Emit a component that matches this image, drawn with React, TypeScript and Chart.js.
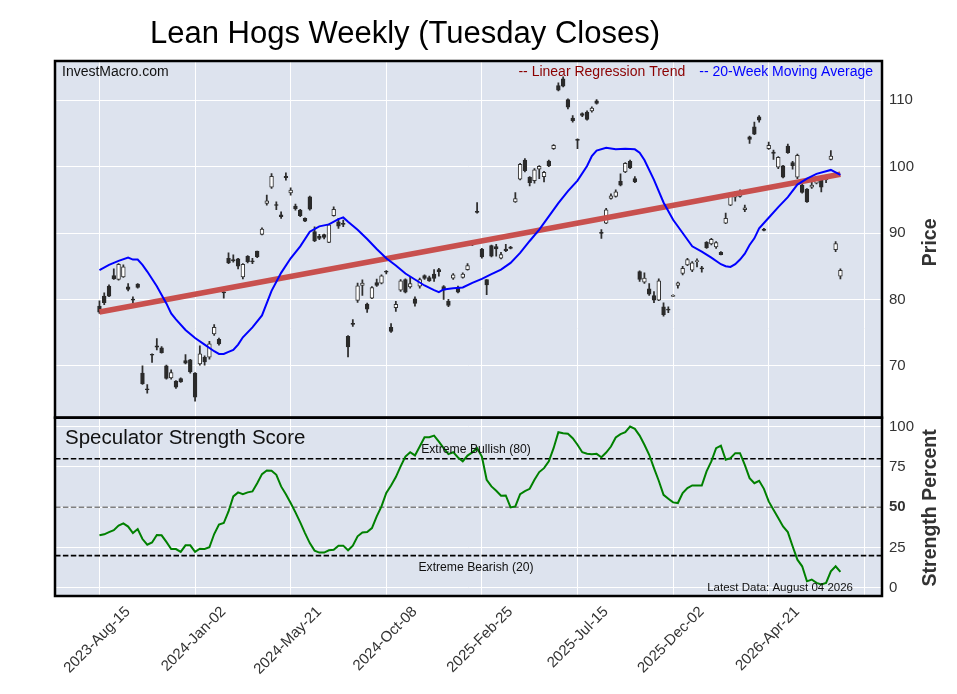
import React, { useEffect, useRef } from 'react';
import { Chart, registerables } from 'chart.js';

Chart.register(...registerables);

const FONT = "'Liberation Sans', Arial, Helvetica, sans-serif";
const BG = '#dde3ee';

// ---- weekly OHLC (Tuesday closes), index 0 = 2023-Aug-15 ----
const opens = [
  79.0, 80.5, 82.0, 83.6, 83.0, 83.4, 81.9, 80.0, 82.3, 68.9,
  66.5, 71.7, 73.0, 72.7, 70.0, 68.2, 67.7, 68.1, 70.8, 70.9,
  68.9, 70.3, 71.3, 71.3, 74.8, 74.0, 81.1, 86.2, 86.0, 86.1,
  83.4, 86.5, 85.75, 87.3, 89.8, 94.45, 96.9, 94.25, 92.75, 98.55,
  96.05, 94.05, 93.45, 92.2, 95.45, 90.2, 89.5, 89.75, 88.6, 92.6,
  91.7, 91.35, 74.45, 76.3, 79.85, 82.1, 79.3, 80.2, 82.55, 82.45,
  84.15, 75.8, 78.75, 81.4, 83.0, 81.9, 80.1, 82.0, 83.6, 83.3,
  83.8, 84.5, 81.95, 79.7, 83.2, 81.75, 83.3, 84.5, 88.25, 93.25,
  87.6, 83.0, 88.1, 87.95, 86.2, 87.6, 87.9, 94.7, 98.1, 101.0,
  98.4, 97.9, 99.6, 98.5, 100.85, 102.7, 112.2, 113.2, 110.1, 107.3,
  104.05, 108.0, 108.2, 108.4, 109.9, 90.05, 91.5, 95.2, 95.5, 97.8,
  99.2, 100.8, 98.2, 84.2, 82.6, 81.6, 80.6, 79.9, 78.9, 78.5,
  80.45, 82.1, 83.9, 85.2, 84.4, 85.7, 84.7, 88.6, 88.35, 87.9,
  87.1, 91.5, 94.2, 95.4, 95.5, 93.5, 104.5, 106.0, 107.5, 90.6,
  102.7, 102.2, 99.9, 100.1, 103.1, 100.6, 98.4, 97.2, 96.6, 96.9,
  97.5, 98.1, 98.0, 101.1, 87.5, 83.5,
];
const highs = [
  79.8, 81.0, 82.2, 84.6, 85.4, 85.2, 82.4, 80.4, 82.4, 70.0,
  67.2, 71.8, 74.1, 72.9, 70.1, 69.4, 67.8, 68.2, 71.7, 71.0,
  69.0, 73.0, 71.5, 73.7, 76.2, 74.2, 81.2, 87.0, 86.7, 86.2,
  85.4, 86.6, 86.2, 87.3, 90.8, 95.7, 98.95, 94.7, 93.2, 99.05,
  96.8, 94.35, 93.55, 92.3, 95.55, 90.95, 89.8, 89.85, 91.35, 93.95,
  92.2, 91.95, 74.55, 76.95, 82.45, 82.95, 79.45, 81.95, 83.05, 83.7,
  84.35, 76.35, 79.7, 83.0, 83.1, 83.4, 80.4, 83.2, 83.7, 83.5,
  84.5, 84.7, 82.1, 80.0, 83.9, 82.0, 84.0, 85.4, 88.3, 94.6,
  87.7, 83.0, 88.2, 88.3, 87.1, 88.3, 88.0, 96.1, 100.5, 101.2,
  98.5, 99.7, 100.15, 99.3, 101.0, 103.3, 112.6, 113.5, 110.2, 107.7,
  104.2, 108.1, 108.4, 109.0, 110.1, 90.5, 93.7, 95.9, 96.5, 98.9,
  100.6, 101.0, 98.5, 84.3, 84.0, 82.4, 81.2, 83.1, 79.5, 78.9,
  80.7, 82.6, 85.0, 86.2, 85.7, 86.1, 85.0, 88.7, 89.2, 88.7,
  87.2, 93.0, 95.7, 96.2, 96.5, 94.2, 104.6, 106.7, 107.7, 90.7,
  103.7, 102.5, 101.5, 100.2, 103.4, 100.8, 101.9, 97.4, 96.7, 97.7,
  98.5, 98.2, 98.6, 102.4, 88.7, 84.6,
];
const lows = [
  77.9, 79.2, 80.4, 83.0, 82.9, 83.3, 81.3, 79.5, 81.7, 67.2,
  65.9, 70.5, 72.4, 71.9, 68.0, 68.0, 66.6, 67.5, 70.3, 68.9,
  64.7, 70.1, 70.1, 71.0, 74.6, 73.1, 80.2, 85.4, 85.6, 84.6,
  83.1, 85.5, 85.4, 86.3, 89.7, 94.2, 96.7, 93.5, 92.2, 97.95,
  95.7, 93.45, 92.45, 91.7, 93.45, 88.7, 89.0, 89.1, 88.55, 92.55,
  90.7, 90.95, 71.35, 75.95, 79.55, 80.6, 78.05, 80.1, 81.95, 82.35,
  83.85, 75.05, 78.2, 81.2, 81.0, 81.7, 79.0, 81.7, 83.0, 82.7,
  82.7, 83.5, 80.0, 78.9, 83.0, 81.0, 83.2, 84.4, 88.1, 93.0,
  86.2, 80.7, 86.4, 86.5, 86.1, 87.2, 87.6, 94.6, 98.0, 99.2,
  97.1, 97.5, 98.2, 97.7, 100.0, 102.6, 111.4, 112.0, 108.7, 106.7,
  102.7, 107.5, 107.0, 108.2, 109.4, 89.2, 91.4, 95.1, 95.4, 97.1,
  99.1, 99.7, 97.6, 82.7, 82.4, 80.6, 79.5, 79.8, 77.5, 78.0,
  80.4, 81.7, 83.7, 85.1, 84.2, 84.9, 84.1, 87.7, 88.2, 87.7,
  86.7, 91.4, 94.1, 94.8, 95.4, 93.2, 103.5, 104.8, 106.7, 90.3,
  102.6, 101.1, 99.7, 98.3, 102.0, 99.6, 98.2, 96.0, 94.6, 96.7,
  97.4, 96.2, 97.6, 101.0, 87.2, 83.1,
];
const closes = [
  78.1, 79.5, 80.5, 83.1, 85.3, 84.9, 81.5, 79.9, 81.8, 67.3,
  66.4, 71.6, 72.8, 72.0, 68.1, 69.0, 66.8, 67.6, 70.4, 69.1,
  65.3, 71.8, 70.6, 73.3, 75.8, 73.3, 81.0, 85.5, 85.8, 85.0,
  85.3, 85.7, 85.65, 86.4, 90.6, 94.85, 98.55, 94.15, 92.45, 98.35,
  96.45, 93.65, 92.6, 91.8, 93.6, 88.8, 89.2, 89.35, 91.25, 93.55,
  91.05, 91.3, 72.85, 76.25, 82.05, 82.45, 78.55, 81.8, 82.1, 83.55,
  84.1, 75.2, 79.25, 82.8, 81.1, 82.4, 79.4, 83.0, 83.15, 82.8,
  83.15, 84.2, 81.4, 79.1, 83.7, 81.1, 83.8, 85.1, 88.2, 93.1,
  86.4, 82.2, 86.5, 87.6, 86.75, 87.35, 87.7, 95.2, 100.35, 99.4,
  97.6, 99.5, 100.05, 99.15, 100.1, 103.2, 111.5, 112.1, 108.95, 106.9,
  103.95, 107.7, 107.1, 108.8, 109.5, 89.95, 93.5, 95.6, 96.2, 97.2,
  100.5, 99.8, 97.7, 83.0, 83.2, 80.8, 79.9, 82.8, 77.7, 78.4,
  80.55, 82.5, 84.7, 86.0, 85.5, 85.75, 84.6, 87.8, 89.05, 88.55,
  86.75, 92.2, 95.6, 95.7, 96.0, 93.8, 104.1, 104.9, 107.0, 90.4,
  103.2, 102.0, 101.4, 98.4, 102.1, 100.1, 101.7, 96.1, 94.7, 97.2,
  98.1, 96.9, 98.3, 101.6, 88.4, 84.4,
];

// ---- 20-week moving average ----
const maIdx = [
  0, 2, 4, 6, 7, 8, 9, 10, 12, 14, 15, 16, 18, 20, 22, 24, 25, 26, 27, 28, 29, 30,
  32, 34, 36, 38, 40, 42, 44, 46, 48, 50, 51, 52, 54, 56, 58, 60, 62, 64, 66, 68,
  70, 71, 72, 74, 76, 78, 80, 82, 84, 86, 88, 90, 92, 94, 96, 98, 100, 102, 103,
  104, 106, 108, 110, 112, 113, 114, 116, 118, 120, 122, 124, 126, 128, 130, 131,
  132, 133, 134, 135, 136, 137, 138, 140, 142, 144, 146, 148, 150, 152, 153, 155,
];
const maVal = [
  84.4, 85.2, 85.8, 86.3, 86.0, 86.0, 85.2, 84.2, 82.0, 79.4, 77.9, 77.0, 75.4, 74.2,
  73.2, 72.2, 71.8, 71.8, 72.1, 72.4, 73.2, 74.3, 75.8, 77.6, 81.3, 84.0, 86.2, 88.0,
  90.2, 91.0, 91.3, 92.1, 92.35, 91.7, 90.5, 89.1, 87.6, 86.2, 85.1, 83.9, 83.0, 82.1,
  81.4, 81.1, 81.5, 81.7, 81.8, 82.5, 83.1, 83.8, 84.5, 85.5, 87.0, 88.8, 90.5, 92.5,
  94.5, 96.3, 97.9, 100.1, 101.6, 102.4, 102.85, 102.6, 102.7, 102.6, 102.1, 101.0,
  98.0, 94.6, 92.0, 90.0, 88.0, 87.2, 86.3, 85.3, 85.0, 84.9, 85.3, 86.0, 86.9, 88.2,
  89.2, 90.7, 92.3, 93.9, 95.4, 97.3, 98.2, 98.9, 99.3, 99.5, 98.75,
];

// ---- linear regression trend (end points) ----
const trendIdx = [0, 155];
const trendVal = [78.1, 98.85];

// ---- speculator strength score (weekly) ----
const strength = [
  32.6, 33.2, 34.6, 35.8, 38.6, 40.0, 38.0, 34.0, 36.5, 30.3,
  26.8, 28.2, 32.8, 32.6, 28.5, 24.1, 24.1, 22.3, 26.4, 26.4,
  22.3, 24.3, 24.1, 25.2, 33.4, 39.2, 40.2, 47.4, 56.7, 59.2,
  58.1, 59.2, 59.8, 64.9, 70.5, 72.8, 72.6, 70.1, 62.9, 58.1,
  52.6, 46.8, 40.6, 34.0, 27.8, 23.1, 21.9, 21.9, 23.3, 23.7,
  26.2, 26.2, 23.3, 26.2, 32.0, 34.4, 34.6, 37.1, 44.3, 50.5,
  58.8, 63.5, 68.7, 75.3, 81.4, 84.1, 82.1, 87.6, 93.4, 93.4,
  94.4, 90.7, 86.6, 82.9, 84.1, 80.8, 78.4, 82.0, 84.0, 86.6,
  81.4, 67.0, 62.9, 60.2, 57.1, 57.3, 49.9, 50.5, 58.1, 60.0,
  61.4, 67.0, 71.8, 74.2, 78.4, 86.6, 96.5, 95.9, 95.5, 92.8,
  88.7, 84.1, 83.1, 82.9, 83.1, 81.0, 83.9, 87.6, 93.2, 95.3,
  96.5, 100.0, 98.6, 94.4, 88.7, 82.5, 74.2, 66.4, 57.7, 55.3,
  53.0, 52.6, 58.8, 61.9, 63.5, 63.5, 63.5, 72.2, 78.4, 86.6,
  88.2, 79.4, 80.4, 83.5, 83.5, 76.3, 68.0, 64.9, 66.4, 61.4,
  53.6, 48.5, 43.3, 38.1, 34.6, 25.8, 17.5, 13.4, 4.1, 5.2,
  3.1, 2.1, 3.1, 10.3, 13.4, 9.9,
];

// ---- axes ----
const xTickIdx = [0, 20, 40, 60, 80, 100, 120, 140, 160];
const xTickLabels = [
  '2023-Aug-15', '2024-Jan-02', '2024-May-21', '2024-Oct-08', '2025-Feb-25',
  '2025-Jul-15', '2025-Dec-02', '2026-Apr-21', '',
];
const priceTicks = [70, 80, 90, 100, 110];
const strengthTicks = [0, 25, 50, 75, 100];
const thresholds = [80, 50, 20];
const thresholdColors = ['#000000', '#808080', '#000000'];

const TITLE = 'Lean Hogs Weekly (Tuesday Closes)';

const panelPlugin = {
  id: 'panels',
  beforeDraw(chart: any) {
    const { ctx, chartArea: a } = chart;
    ctx.save();
    ctx.fillStyle = '#ffffff';
    ctx.fillRect(0, 0, chart.width, chart.height);
    ctx.fillStyle = BG;
    ctx.fillRect(a.left, a.top, a.right - a.left, a.bottom - a.top);
    ctx.restore();
  },
  beforeDatasetsDraw(chart: any) {
    const { ctx, chartArea: a, scales } = chart;
    const s = scales.y2;
    ctx.save();
    ctx.lineWidth = 1.6;
    ctx.setLineDash([5.5, 2.4]);
    thresholds.forEach((v, k) => {
      const y = s.getPixelForValue(v);
      ctx.strokeStyle = thresholdColors[k];
      ctx.beginPath();
      ctx.moveTo(a.left, y);
      ctx.lineTo(a.right, y);
      ctx.stroke();
    });
    ctx.restore();
  },
  afterDatasetsDraw(chart: any) {
    const { ctx, chartArea: a, scales } = chart;
    const s2 = scales.y2;
    ctx.save();
    ctx.textBaseline = 'alphabetic';
    // top panel texts
    ctx.font = `14px ${FONT}`;
    ctx.fillStyle = '#111';
    ctx.textAlign = 'left';
    ctx.fillText('InvestMacro.com', a.left + 7, a.top + 15);
    ctx.textAlign = 'right';
    const maLabel = '-- 20-Week Moving Average';
    const trLabel = '-- Linear Regression Trend';
    const rx = a.right - 9;
    ctx.fillStyle = '#0000ff';
    ctx.fillText(maLabel, rx, a.top + 15);
    const w = ctx.measureText(maLabel).width;
    ctx.fillStyle = '#8b0000';
    ctx.fillText(trLabel, rx - w - 14, a.top + 15);
    // bottom panel texts
    ctx.textAlign = 'left';
    ctx.fillStyle = '#111';
    ctx.font = `20.5px ${FONT}`;
    ctx.fillText('Speculator Strength Score', a.left + 10, s2.top + 26.5);
    ctx.textAlign = 'center';
    ctx.font = `12.2px ${FONT}`;
    ctx.fillText('Extreme Bullish (80)', a.left + 421, s2.getPixelForValue(80) - 5.5);
    ctx.fillText('Extreme Bearish (20)', a.left + 421, s2.getPixelForValue(20) + 15);
    ctx.textAlign = 'right';
    ctx.font = `11.5px ${FONT}`;
    ctx.fillText('Latest Data: August 04 2026', a.right - 29, s2.bottom - 5);
    ctx.restore();
  },
  afterDraw(chart: any) {
    const { ctx, chartArea: a, scales } = chart;
    const s1 = scales.y;
    const s2 = scales.y2;
    ctx.save();
    ctx.strokeStyle = '#000';
    ctx.lineWidth = 2.5;
    ctx.strokeRect(a.left, s1.top, a.right - a.left, s1.bottom - s1.top);
    ctx.strokeRect(a.left, s2.top, a.right - a.left, s2.bottom - s2.top);
    // title
    ctx.fillStyle = '#000';
    ctx.font = `31px ${FONT}`;
    ctx.textAlign = 'center';
    ctx.textBaseline = 'alphabetic';
    ctx.fillText(TITLE, 405, 43);
    // axis titles
    ctx.fillStyle = '#333';
    ctx.font = `bold 19.5px ${FONT}`;
    const drawV = (text: string, cy: number) => {
      ctx.save();
      ctx.translate(a.right + 54, cy);
      ctx.rotate(-Math.PI / 2);
      ctx.textAlign = 'center';
      ctx.fillText(text, 0, 0);
      ctx.restore();
    };
    drawV('Price', (s1.top + s1.bottom) / 2 + 3);
    drawV('Strength Percent', (s2.top + s2.bottom) / 2 + 1);
    ctx.restore();
  },
};

export default function App() {
  const ref = useRef<HTMLCanvasElement>(null);

  useEffect(() => {
    const canvas = ref.current;
    if (!canvas) return;
    Chart.defaults.font.family = FONT;
    Chart.defaults.color = '#333';
    const idx = closes.map((_, i) => i);
    const isUp = (i: number) => closes[i] >= opens[i];

    const chart = new Chart(canvas, {
      type: 'line',
      data: {
        datasets: [
          {
            type: 'bar',
            label: 'wick',
            data: idx.map((i) => ({ x: i, y: [lows[i], highs[i]] })) as any,
            backgroundColor: '#2e2e2e',
            borderWidth: 0,
            barThickness: 1.1,
            grouped: false,
            order: 5,
            yAxisID: 'y',
          } as any,
          {
            type: 'bar',
            label: 'body',
            data: idx.map((i) => ({ x: i, y: [opens[i], closes[i]] })) as any,
            backgroundColor: (c: any) => (isUp(c.dataIndex ?? 0) ? '#ffffff' : '#2a2a2a'),
            borderColor: (c: any) => (isUp(c.dataIndex ?? 0) ? '#333333' : '#2a2a2a'),
            borderWidth: 1,
            borderSkipped: false,
            barThickness: 3.8,
            minBarLength: 1,
            grouped: false,
            order: 4,
            yAxisID: 'y',
          } as any,
          {
            type: 'line',
            label: 'Linear Regression Trend',
            data: trendIdx.map((x, k) => ({ x, y: trendVal[k] })),
            borderColor: '#c8504e',
            borderWidth: 5.5,
            borderCapStyle: 'butt',
            pointRadius: 0,
            tension: 0,
            order: 3,
            yAxisID: 'y',
          },
          {
            type: 'line',
            label: '20-Week Moving Average',
            data: maIdx.map((x, k) => ({ x, y: maVal[k] })),
            borderColor: '#0000ff',
            borderWidth: 2,
            pointRadius: 0,
            tension: 0,
            order: 2,
            yAxisID: 'y',
          },
          {
            type: 'line',
            label: 'Speculator Strength Score',
            data: strength.map((v, i) => ({ x: i, y: v })),
            borderColor: '#008000',
            borderWidth: 2,
            pointRadius: 0,
            tension: 0,
            order: 1,
            yAxisID: 'y2',
          },
        ],
      },
      options: {
        responsive: false,
        animation: false,
        events: [],
        layout: { padding: { left: 55, top: 61, right: 0, bottom: 0 } },
        plugins: {
          legend: { display: false },
          tooltip: { enabled: false },
          title: { display: false },
        },
        scales: {
          x: {
            type: 'linear',
            min: -9.3,
            max: 163.7,
            offset: false,
            afterBuildTicks: (s: any) => {
              s.ticks = xTickIdx.map((v) => ({ value: v }));
            },
            afterFit: (s: any) => {
              s.height = 98;
            },
            ticks: {
              autoSkip: false,
              maxRotation: 45,
              minRotation: 45,
              labelOffset: 28.5,
              padding: 7,
              color: '#333',
              font: { size: 15, family: FONT },
              callback: (_v: any, i: number) => xTickLabels[i] ?? '',
            },
            grid: { color: '#ffffff', lineWidth: 1, drawTicks: false, offset: false },
            border: { display: false },
          },
          y: {
            type: 'linear',
            position: 'right',
            stack: 'panels',
            stackWeight: 2,
            min: 62.2,
            max: 115.9,
            afterBuildTicks: (s: any) => {
              s.ticks = priceTicks.map((v) => ({ value: v }));
            },
            afterFit: (s: any) => {
              s.width = 75;
            },
            ticks: {
              padding: 7,
              color: '#333',
              font: { size: 15, family: FONT },
              callback: (v: any) => String(v),
            },
            grid: { color: '#ffffff', lineWidth: 1, drawTicks: false },
            border: { display: false },
          },
          y2: {
            type: 'linear',
            position: 'right',
            stack: 'panels',
            stackWeight: 1,
            min: -5,
            max: 105.5,
            afterBuildTicks: (s: any) => {
              s.ticks = strengthTicks.map((v) => ({ value: v }));
            },
            afterFit: (s: any) => {
              s.width = 75;
            },
            ticks: {
              padding: 7,
              color: '#333',
              font: (c: any) => ({
                size: 15,
                family: FONT,
                weight: c.tick && c.tick.value === 50 ? 'bold' : 'normal',
              }),
              callback: (v: any) => String(v),
            },
            grid: { color: '#ffffff', lineWidth: 1, drawTicks: false },
            border: { display: false },
          },
        },
      } as any,
      plugins: [panelPlugin],
    });

    return () => {
      chart.destroy();
    };
  }, []);

  return (
    <div
      style={{
        position: 'fixed',
        left: 0,
        top: 0,
        width: 957,
        height: 694,
        background: '#ffffff',
      }}
    >
      <canvas ref={ref} width={957} height={694} style={{ display: 'block', width: 957, height: 694 }} />
    </div>
  );
}
